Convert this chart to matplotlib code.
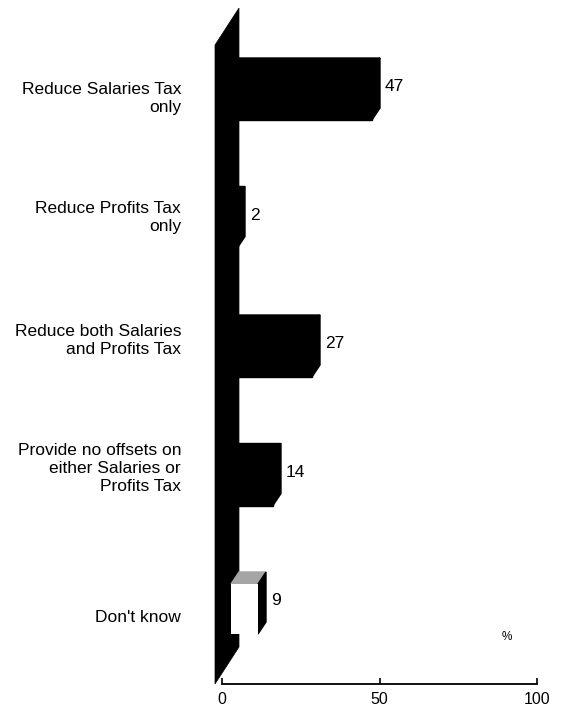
import matplotlib
matplotlib.use('Agg')
import matplotlib.pyplot as plt
from matplotlib.patches import Polygon, Rectangle

# data
categories = ['Reduce Salaries Tax\nonly',
              'Reduce Profits Tax\nonly',
              'Reduce both Salaries\nand Profits Tax',
              'Provide no offsets on\neither Salaries or\nProfits Tax',
              "Don't know"]
values = [47, 2, 27, 14, 9]
front_colors = ['black', 'black', 'black', 'black', 'white']
top_colors = ['black', 'black', 'black', 'black', '#a5a5a5']
ticks = [0, 50, 100]

# small vertical nudges of the category labels, as in the original
label_dy = [0.12, 0.05, 0.0, 0.0, 0.16]

plt.rcParams['font.family'] = ['Liberation Sans', 'DejaVu Sans']

W, H = 561, 707
fig = plt.figure(figsize=(W / 100, H / 100), dpi=100)
ax = fig.add_axes([200 / W, (H - 684) / H, 340 / W, 676 / H])

px_x = 3.0     # pixels per percent (back plane)
px_y = 128.5   # pixels per category
x0_px, y0_px = 239, 83
ax.set_xlim((200 - x0_px) / px_x, (540 - x0_px) / px_x)
ax.set_ylim((684 - y0_px) / px_y, (8 - y0_px) / px_y)
ax.axis('off')

# depth of the fake 3d
bdx, bdy = -8 / px_x, 12 / px_y
wdx, wdy = -24 / px_x, 37 / px_y
half = 25 / px_y

y_bot, y_top = ax.get_ylim()

# side wall
wall = Polygon([(0, y_top), (0, y_bot - wdy), (wdx, y_bot), (wdx, y_top + wdy)],
               closed=True, fc='black', ec='black', lw=0.5, zorder=1)
ax.add_patch(wall)

# bars
for i, (v, fc, tc) in enumerate(zip(values, front_colors, top_colors)):
    t, b = i - half, i + half
    ax.add_patch(Polygon([(0, t), (v, t), (v + bdx, t + bdy), (bdx, t + bdy)],
                         closed=True, fc=tc, ec=tc, lw=1, zorder=3))
    ax.add_patch(Polygon([(v, t), (v, b), (v + bdx, b + bdy), (v + bdx, t + bdy)],
                         closed=True, fc='black', ec='black', lw=1, zorder=3))
    ax.add_patch(Rectangle((bdx, t + bdy), v, 2 * half, fc=fc, ec=fc,
                           lw=1 if fc == 'black' else 0, zorder=4))
    ax.text(v + 1.7, i + 0.03, str(v), ha='left', va='center', fontsize=12.5)

# category labels
for i, (cat, dy) in enumerate(zip(categories, label_dy)):
    ax.text(-19.3, i + dy, cat, ha='right', va='center', fontsize=12.5,
            multialignment='right', linespacing=1.25)

ax.text(89.3, (637 - y0_px) / px_y, '%', ha='center', va='center', fontsize=8.5)

# floor axis on the front plane
fl = fig.add_axes([222 / W, (H - 684) / H, (537 - 222) / W, 10 / H])
fl.set_xlim(0, 100)
fl.set_facecolor('none')
for s in ['top', 'left', 'right']:
    fl.spines[s].set_visible(False)
fl.spines['bottom'].set_linewidth(1.3)
fl.set_yticks([])
fl.set_xticks(ticks)
fl.set_xticklabels([str(t) for t in ticks], fontsize=11.5)
fl.tick_params(axis='x', direction='in', length=4, width=1.2, pad=6)

fig.savefig('out.png', dpi=100)
